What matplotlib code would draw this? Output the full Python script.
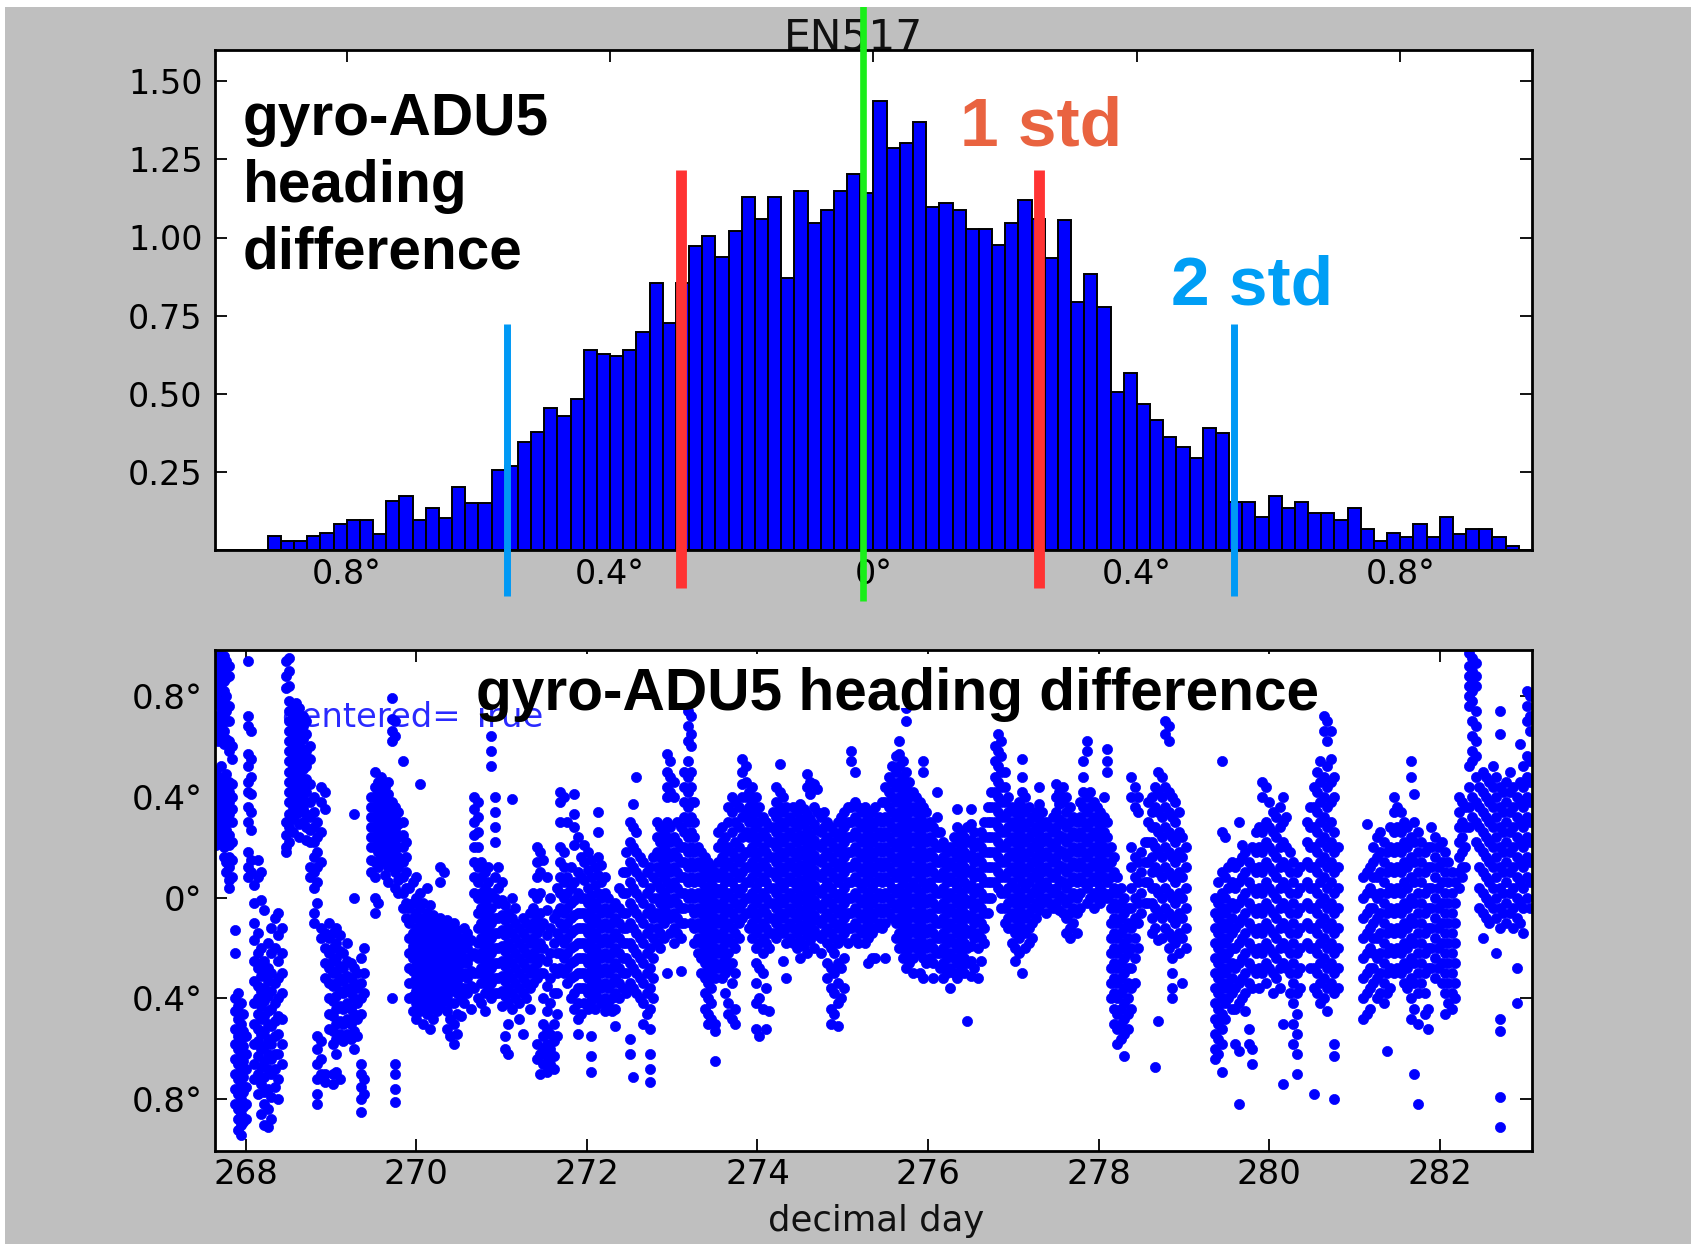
import numpy as np
import matplotlib
matplotlib.use("Agg")
import matplotlib.pyplot as plt
from matplotlib.patches import Rectangle

# ---------------- data ----------------
# histogram (normalised counts), 100 bins of width 0.02 deg from -1 to 1
hist_heights = [0, 0, 0, 0, 0.045, 0.029, 0.029, 0.045, 0.053, 0.083,
                0.096, 0.096, 0.051, 0.158, 0.173, 0.096, 0.136, 0.104, 0.203, 0.150,
                0.150, 0.256, 0.269, 0.347, 0.378, 0.454, 0.429, 0.483, 0.641, 0.628,
                0.620, 0.641, 0.697, 0.855, 0.726, 0.855, 0.974, 1.006, 0.937, 1.020,
                1.129, 1.058, 1.129, 0.870, 1.148, 1.045, 1.089, 1.148, 1.202, 1.143,
                1.437, 1.287, 1.301, 1.370, 1.097, 1.111, 1.088, 1.028, 1.028, 0.975,
                1.045, 1.120, 1.060, 0.935, 1.056, 0.793, 0.884, 0.778, 0.505, 0.566,
                0.468, 0.415, 0.361, 0.331, 0.294, 0.392, 0.376, 0.155, 0.155, 0.105,
                0.173, 0.134, 0.155, 0.120, 0.120, 0.096, 0.134, 0.066, 0.030, 0.053,
                0.043, 0.083, 0.043, 0.105, 0.051, 0.066, 0.066, 0.043, 0.014, 0]
hist_xticks = [-0.8, -0.4, 0.0, 0.4, 0.8]
hist_xlabels = ["0.8°", "0.4°", "0°", "0.4°", "0.8°"]
hist_yticks = [0.25, 0.50, 0.75, 1.00, 1.25, 1.50]
hist_ylabels = ["0.25", "0.50", "0.75", "1.00", "1.25", "1.50"]

mean_line = -0.016
std1_lines = [-0.292, 0.252]
std2_lines = [-0.557, 0.547]

# scatter: (decimal day, heading differences in 1/100 deg)
scatter_cols = [
    (267.65, [96, 93, 90, 87, 84, 80, 72, 66, 50, 46, 43, 40, 36, 33, 30, 27, 24, 21]),
    (267.68, [97, 94, 91, 88, 85, 82, 77, 70, 62, 48, 44, 41, 38, 35, 31, 28, 25, 22]),
    (267.71, [95, 92, 89, 86, 83, 75, 68, 64, 52, 45, 42, 39, 34, 29, 26, 23]),
    (267.74, [96, 93, 90, 86, 82, 78, 72, 66, 61, 47, 44, 40, 37, 32, 28, 24, 20, 16]),
    (267.77, [94, 91, 87, 80, 74, 70, 63, 49, 45, 41, 36, 31, 27, 22, 14, 10]),
    (267.80, [92, 88, 76, 70, 62, 58, 46, 42, 38, 33, 25, 21, 16, 12, 7, 4]),
    (267.84, [60, 55, 45, 40, 35, 30, 22, 15, 8]),
    (267.88, [-13, -22, -40, -45, -52, -58, -64, -70, -76, -82]),
    (267.91, [-38, -43, -48, -55, -60, -66, -72, -78, -84, -88, -92]),
    (267.94, [-42, -50, -56, -62, -68, -74, -80, -86, -90, -94]),
    (267.97, [-46, -53, -59, -65, -71, -77, -83, -89]),
    (268.00, [-55, -62, -68, -75, -82, -88]),
    (268.03, [94, 72, 68, 57, 52, 46, 42, 36, 30, 18, 12, 8]),
    (268.06, [66, 55, 48, 41, 34, 27, 15, 10]),
    (268.10, [5, -2, -10, -17, -25, -33, -42, -50, -58, -66, -72]),
    (268.14, [15, 8, -14, -22, -28, -35, -40, -46, -52, -57, -63, -70, -78]),
    (268.18, [10, -1, -20, -26, -31, -37, -43, -48, -54, -60, -67, -74, -86]),
    (268.22, [-5, -25, -30, -36, -41, -47, -53, -59, -65, -71, -77, -82, -90]),
    (268.26, [-18, -28, -33, -39, -45, -50, -56, -62, -68, -76, -84, -91]),
    (268.30, [-12, -22, -30, -37, -44, -51, -58, -64, -70, -79, -88]),
    (268.34, [-8, -20, -34, -42, -49, -55, -62, -68, -75]),
    (268.38, [-6, -15, -25, -32, -40, -47, -54, -62, -72, -80]),
    (268.43, [-12, -22, -30, -38, -48, -58, -66]),
    (268.47, [94, 88, 83, 30, 25, 20, 18]),
    (268.51, [95, 90, 84, 78, 74, 70, 66, 62, 58, 54, 50, 46, 42, 38, 33, 28, 22]),
    (268.55, [76, 72, 68, 64, 60, 56, 52, 48, 44, 40, 36, 31, 26]),
    (268.59, [77, 73, 69, 65, 61, 57, 53, 49, 45, 41, 37, 33]),
    (268.63, [75, 70, 66, 62, 58, 54, 50, 46, 42, 38, 34, 29, 24]),
    (268.67, [72, 68, 63, 59, 55, 51, 47, 43, 39, 35, 30]),
    (268.71, [70, 65, 58, 52, 47, 42, 38, 33, 28, 23]),
    (268.75, [60, 55, 45, 38, 32, 27, 22, 12, 8]),
    (268.80, [40, 34, 28, 22, 16, 10, 4, -6, -10]),
    (268.84, [30, 24, 18, 12, 6, -2, -55, -60, -66, -72, -78, -82]),
    (268.88, [44, 38, 26, 14, -12, -16, -57, -64, -70]),
    (268.93, [42, 35, -14, -20, -26, -32, -70, -73]),
    (268.98, [-10, -16, -22, -28, -34, -40, -46, -52]),
    (269.02, [-14, -20, -25, -30, -35, -41, -47, -53, -58, -70, -74]),
    (269.06, [-12, -18, -24, -29, -34, -39, -44, -50, -56, -62, -69]),
    (269.10, [-15, -21, -27, -32, -37, -43, -49, -54, -72]),
    (269.14, [-22, -28, -33, -38, -44, -50, -57]),
    (269.19, [-18, -25, -31, -36, -42, -48, -54]),
    (269.23, [-26, -32, -38, -44, -50, -56]),
    (269.27, [33, 0, -28, -34, -40, -46, -53, -60]),
    (269.31, [-30, -36, -42, -48, -55]),
    (269.35, [-24, -34, -40, -46, -66, -70, -75, -80, -85]),
    (269.39, [-20, -30, -38, -72, -78]),
    (269.47, [40, 36, 32, 28, 24, 20, 15, 10]),
    (269.51, [50, 44, 40, 36, 32, 28, 24, 20, 14, 8, 0, -6]),
    (269.55, [46, 42, 38, 34, 30, 26, 22, 18, 12, -2]),
    (269.59, [48, 43, 39, 35, 31, 27, 23, 19, 16]),
    (269.63, [44, 40, 36, 32, 28, 24, 20, 14, 9]),
    (269.67, [46, 41, 37, 33, 29, 25, 21, 17, 12, 6]),
    (269.71, [79, 71, 66, 62, 38, 34, 30, 26, 22, 18, 14, -40]),
    (269.75, [70, 64, 36, 32, 27, 23, 19, 15, 10, 4, -66, -70, -76, -81]),
    (269.79, [34, 29, 24, 20, 16, 12, 7, 2]),
    (269.84, [54, 30, 25, 20, 14, 8, 2, -4]),
    (269.88, [22, 16, 10, 4, -2, -8]),
    (269.92, [4, -4, -10, -16, -22, -28, -34, -40]),
    (269.96, [6, -2, -8, -14, -19, -24, -29, -34, -39, -45]),
    (270.00, [8, 0, -6, -12, -17, -22, -27, -32, -37, -42, -48]),
    (270.04, [45, 2, -4, -10, -15, -20, -25, -30, -35, -40, -45]),
    (270.08, [-2, -8, -13, -18, -23, -28, -33, -38, -43, -50]),
    (270.12, [4, -6, -11, -16, -21, -26, -31, -36, -41, -46]),
    (270.16, [-3, -9, -14, -19, -24, -29, -34, -39, -44, -52]),
    (270.20, [-7, -12, -17, -22, -27, -32, -37, -42, -48]),
    (270.24, [-10, -15, -20, -25, -30, -35, -40, -45]),
    (270.28, [12, 6, -8, -13, -18, -23, -28, -33, -38, -43]),
    (270.32, [10, -11, -16, -21, -26, -31, -36, -41]),
    (270.36, [-9, -14, -19, -24, -29, -34, -39, -45, -52]),
    (270.40, [-12, -17, -22, -27, -32, -37, -42, -48, -55]),
    (270.44, [-10, -15, -20, -25, -30, -35, -42, -50, -58]),
    (270.48, [-13, -18, -23, -28, -33, -38, -46, -54]),
    (270.52, [-16, -21, -26, -31, -36, -40, -47]),
    (270.56, [-12, -18, -24, -30, -36, -42]),
    (270.60, [-14, -20, -26, -32, -38]),
    (270.64, [-17, -23, -29, -35, -44]),
    (270.68, [40, 35, 30, 25, 20, 14, 8, 2, -22, -30, -36]),
    (270.72, [38, 32, 26, 20, 12, 6, 0, -6, -12, -18, -24, -30, -40]),
    (270.76, [14, 8, 2, -4, -10, -16, -22, -28, -34, -42]),
    (270.80, [10, 4, -2, -8, -14, -20, -26, -32, -38, -45]),
    (270.84, [12, 6, 0, -6, -12, -18, -24, -30, -36]),
    (270.88, [64, 58, 52, 2, -4, -10, -16, -22, -28, -34, -40]),
    (270.92, [40, 34, 28, 22, 8, 0, -8, -14, -20, -26, -32, -38]),
    (270.96, [12, 4, -2, -8, -14, -20, -26, -32, -38]),
    (271.00, [6, -1, -7, -13, -19, -25, -31, -37, -43]),
    (271.04, [-3, -9, -15, -21, -27, -33, -39, -55, -60]),
    (271.08, [-6, -12, -18, -24, -30, -36, -42, -50, -62]),
    (271.12, [39, 0, -8, -14, -20, -26, -32, -38, -44]),
    (271.16, [-4, -10, -16, -22, -28, -34, -40]),
    (271.20, [-12, -18, -24, -30, -36, -42, -48]),
    (271.25, [-8, -14, -20, -26, -32, -38, -54]),
    (271.29, [-10, -16, -22, -28, -34, -40]),
    (271.33, [-6, -12, -18, -24, -30, -36, -44]),
    (271.37, [2, -4, -10, -16, -22, -28, -34]),
    (271.41, [20, 14, 8, 0, -8, -14, -20, -26, -32, -58, -64]),
    (271.45, [18, 10, 2, -6, -12, -18, -24, -30, -62, -70]),
    (271.49, [15, -10, -20, -30, -40, -50, -55, -60, -66]),
    (271.53, [8, -5, -15, -25, -35, -45, -52, -58, -63, -69]),
    (271.57, [0, -12, -22, -32, -42, -54, -60, -66]),
    (271.61, [-8, -18, -28, -38, -50, -57, -63, -68]),
    (271.65, [4, -6, -14, -22, -30, -38, -46, -55]),
    (271.69, [42, 38, 30, 20, 14, 8, 2, -4, -10, -16, -22, -28]),
    (271.73, [40, 18, 12, 6, 0, -6, -12, -18, -24, -30]),
    (271.77, [30, 8, 2, -4, -10, -16, -22, -28, -34]),
    (271.81, [12, 4, -2, -8, -14, -20, -26, -32, -40]),
    (271.85, [41, 33, 28, 21, 6, -1, -7, -13, -19, -25, -31, -38, -44]),
    (271.89, [24, 10, 2, -6, -12, -18, -24, -30, -36, -42, -48, -54]),
    (271.93, [16, 8, 0, -6, -12, -18, -24, -30, -36, -46]),
    (271.97, [21, 14, 7, 0, -6, -12, -18, -24, -30, -36, -42]),
    (272.01, [18, 11, 4, -2, -8, -14, -20, -26, -32, -38, -44]),
    (272.05, [15, 8, 1, -5, -11, -17, -23, -29, -35, -41, -55, -63, -69]),
    (272.09, [12, 5, -2, -8, -14, -20, -26, -32, -38, -44]),
    (272.13, [34, 26, 16, 9, 2, -4, -10, -16, -22, -28, -34, -40]),
    (272.17, [13, 6, 0, -6, -12, -18, -24, -30, -36, -42]),
    (272.21, [8, 2, -4, -10, -16, -22, -28, -34, -40, -45]),
    (272.25, [0, -6, -12, -18, -24, -30, -36, -42]),
    (272.29, [-4, -10, -16, -22, -28, -34, -40, -45]),
    (272.33, [-2, -8, -14, -20, -26, -32, -38, -44, -51]),
    (272.38, [4, -4, -10, -16, -22, -28, -34, -40]),
    (272.42, [10, 2, -6, -12, -18, -24, -30, -36]),
    (272.46, [18, 10, 2, -6, -12, -18, -24, -30, -38]),
    (272.50, [30, 22, 14, 6, -2, -10, -18, -26, -34, -56, -62]),
    (272.54, [37, 28, 20, 12, 4, -4, -12, -20, -28, -36, -71]),
    (272.58, [48, 26, 18, 10, 2, -6, -14, -22, -30, -38]),
    (272.62, [16, 8, 0, -8, -16, -24, -32, -40]),
    (272.66, [14, 6, -2, -10, -18, -26, -34, -42, -50]),
    (272.70, [10, 2, -6, -14, -22, -30, -38, -46]),
    (272.74, [12, 4, -4, -12, -20, -28, -36, -44, -52, -62, -68, -73]),
    (272.78, [16, 8, 0, -8, -16, -24, -32, -40]),
    (272.82, [30, 24, 18, 12, 6, 0, -6, -12, -18]),
    (272.86, [28, 22, 16, 10, 4, -2, -8, -14, -20]),
    (272.90, [26, 20, 14, 8, 2, -4, -10, -16]),
    (272.94, [57, 50, 44, 40, 30, 24, 18, 12, 6, 0, -6, -30]),
    (272.98, [54, 48, 42, 28, 22, 16, 10, 4, -2, -8, -14]),
    (273.02, [46, 40, 24, 18, 12, 6, 0, -6, -12, -18]),
    (273.06, [30, 22, 16, 10, 4, -2, -8, -14]),
    (273.10, [28, 20, 14, 8, 2, -4, -10, -16, -29]),
    (273.14, [50, 44, 38, 32, 26, 20, 14, 8, 2, -4, -10]),
    (273.18, [74, 68, 62, 54, 48, 42, 36, 30, 24, 18, 12, 6, 0]),
    (273.22, [72, 65, 60, 50, 44, 38, 32, 26, 20, 14, 8, 2, -4, -10]),
    (273.26, [38, 30, 24, 18, 12, 6, 0, -6, -12, -18]),
    (273.30, [20, 14, 8, 2, -4, -10, -16, -22]),
    (273.34, [18, 12, 6, 0, -6, -12, -18, -24, -30]),
    (273.38, [16, 10, 4, -2, -8, -14, -20, -26, -32, -38, -44]),
    (273.42, [14, 8, 2, -4, -10, -16, -22, -28, -34, -40, -46, -50]),
    (273.46, [12, 6, 0, -6, -12, -18, -24, -30, -36, -42, -48]),
    (273.50, [10, 4, -2, -8, -14, -20, -26, -32, -50, -53, -65]),
    (273.54, [26, 20, 14, 8, 2, -4, -10, -16, -22, -28]),
    (273.58, [28, 22, 16, 10, 4, -2, -8, -14, -20, -26, -32]),
    (273.62, [24, 18, 12, 6, 0, -6, -12, -18, -24, -30, -38]),
    (273.66, [36, 30, 20, 14, 8, 2, -4, -10, -16, -22, -28, -42, -46]),
    (273.70, [40, 34, 26, 18, 12, 6, 0, -6, -12, -18, -26, -34, -48]),
    (273.74, [38, 30, 22, 16, 10, 4, -2, -8, -14, -20, -30, -44, -50]),
    (273.78, [36, 28, 20, 14, 8, 2, -4, -10, -16]),
    (273.82, [55, 50, 45, 40, 32, 24, 16, 10, 4, -2, -8]),
    (273.86, [52, 46, 40, 34, 26, 18, 12, 6, 0, -6]),
    (273.90, [42, 36, 30, 24, 18, 12, 6, 0, -6, -12]),
    (273.94, [44, 38, 32, 26, 20, 14, 8, 2, -4, -10, -16]),
    (273.98, [40, 34, 28, 22, 16, 10, 4, -2, -8, -14, -20, -26, -34, -42, -52]),
    (274.02, [36, 30, 24, 18, 12, 6, 0, -6, -12, -18, -28, -40, -55]),
    (274.06, [32, 26, 20, 14, 8, 2, -4, -10, -16, -22, -30, -44]),
    (274.10, [30, 24, 18, 12, 6, 0, -6, -12, -18, -36, -52]),
    (274.14, [28, 22, 16, 10, 4, -2, -8, -14, -20, -45]),
    (274.18, [34, 28, 22, 16, 10, 4, -2, -8, -14]),
    (274.22, [44, 38, 32, 26, 20, 14, 8, 2, -4, -10, -16]),
    (274.26, [53, 42, 36, 30, 24, 18, 12, 6, 0, -6, -12]),
    (274.30, [40, 34, 28, 22, 16, 10, 4, -2, -8, -14, -25]),
    (274.34, [36, 30, 24, 18, 12, 6, 0, -6, -12, -18, -32]),
    (274.38, [32, 26, 20, 14, 8, 2, -4, -10, -16]),
    (274.42, [36, 30, 24, 18, 12, 6, 0, -6, -12, -18]),
    (274.46, [34, 28, 22, 16, 10, 4, -2, -8, -14, -20]),
    (274.50, [37, 31, 25, 19, 13, 7, 1, -5, -11, -17, -24]),
    (274.54, [35, 29, 23, 17, 11, 5, -1, -7, -13, -19]),
    (274.58, [49, 44, 33, 27, 21, 15, 9, 3, -3, -9, -15, -22]),
    (274.62, [46, 41, 31, 25, 19, 13, 7, 1, -5, -11, -17]),
    (274.66, [45, 36, 29, 23, 17, 11, 5, -1, -7, -13, -20]),
    (274.70, [43, 34, 27, 21, 15, 9, 3, -3, -9, -15]),
    (274.74, [32, 26, 20, 14, 8, 2, -4, -10, -16, -22]),
    (274.78, [34, 28, 22, 16, 10, 4, -2, -8, -14]),
    (274.82, [30, 24, 18, 12, 6, 0, -6, -12, -18, -26, -32]),
    (274.86, [28, 22, 16, 10, 4, -2, -8, -14, -20, -28, -36, -44, -50]),
    (274.90, [26, 20, 14, 8, 2, -4, -10, -16, -22, -30, -38, -46]),
    (274.94, [30, 24, 18, 12, 6, 0, -6, -12, -18, -26, -34, -42, -51]),
    (274.98, [32, 26, 20, 14, 8, 2, -4, -10, -16, -28, -40]),
    (275.02, [34, 28, 22, 16, 10, 4, -2, -8, -14, -24, -36]),
    (275.06, [36, 30, 24, 18, 12, 6, 0, -6, -12, -18]),
    (275.10, [58, 54, 36, 30, 24, 18, 12, 6, 0, -6, -12]),
    (275.14, [50, 38, 32, 26, 20, 14, 8, 2, -4, -10, -16]),
    (275.18, [36, 30, 24, 18, 12, 6, 0, -6, -12, -18]),
    (275.22, [34, 28, 22, 16, 10, 4, -2, -8, -14]),
    (275.26, [36, 30, 24, 18, 12, 6, 0, -6, -12, -18]),
    (275.30, [32, 26, 20, 14, 8, 2, -4, -10, -16, -26]),
    (275.34, [34, 28, 22, 16, 10, 4, -2, -8, -14, -24]),
    (275.38, [36, 30, 24, 18, 12, 6, 0, -6, -12, -24]),
    (275.42, [32, 26, 20, 14, 8, 2, -4, -10]),
    (275.46, [38, 30, 24, 18, 12, 6, 0, -6, -12]),
    (275.50, [44, 38, 32, 26, 20, 14, 8, 2, -4, -10, -24]),
    (275.54, [48, 42, 36, 30, 24, 18, 12, 6, 0, -6]),
    (275.58, [52, 46, 40, 34, 28, 22, 16, 10, 4, -2, -8]),
    (275.62, [56, 50, 44, 38, 32, 26, 20, 14, 8, 2, -4, -10, -16]),
    (275.66, [62, 57, 52, 46, 40, 34, 28, 22, 16, 10, 4, -2, -8, -14, -20]),
    (275.70, [54, 48, 42, 36, 30, 24, 18, 12, 6, 0, -6, -12, -18, -24]),
    (275.74, [75, 70, 50, 44, 38, 32, 26, 20, 14, 8, 2, -4, -10, -16, -22, -28]),
    (275.78, [46, 40, 34, 28, 22, 16, 10, 4, -2, -8, -14, -20, -26]),
    (275.82, [42, 36, 30, 24, 18, 12, 6, 0, -6, -12, -18, -24, -30]),
    (275.86, [40, 34, 28, 22, 16, 10, 4, -2, -8, -14, -20]),
    (275.90, [38, 32, 26, 20, 14, 8, 2, -4, -10, -16, -22, -30]),
    (275.94, [54, 50, 36, 30, 24, 18, 12, 6, 0, -6, -12, -18, -24, -32]),
    (275.98, [34, 28, 22, 16, 10, 4, -2, -8, -14, -20, -26]),
    (276.02, [30, 24, 18, 12, 6, 0, -6, -12, -18, -24]),
    (276.06, [28, 22, 16, 10, 4, -2, -8, -14, -20, -26, -32]),
    (276.10, [42, 32, 26, 20, 14, 8, 2, -4, -10, -16, -22]),
    (276.14, [26, 20, 14, 8, 2, -4, -10, -16, -22, -28]),
    (276.18, [22, 16, 10, 4, -2, -8, -14, -20, -26, -32]),
    (276.22, [18, 12, 6, 0, -6, -12, -18, -24, -30]),
    (276.26, [20, 14, 8, 2, -4, -10, -16, -22, -28, -36]),
    (276.30, [24, 18, 12, 6, 0, -6, -12, -18, -24, -30]),
    (276.34, [35, 28, 22, 16, 10, 4, -2, -8, -14, -20, -26, -32]),
    (276.38, [26, 20, 14, 8, 2, -4, -10, -16, -22, -28]),
    (276.42, [24, 18, 12, 6, 0, -6, -12, -18, -24, -30]),
    (276.46, [28, 22, 16, 10, 4, -2, -8, -14, -20, -26, -49]),
    (276.50, [35, 29, 23, 17, 11, 5, -1, -7, -13, -19, -25, -31]),
    (276.54, [26, 20, 14, 8, 2, -4, -10, -16, -28]),
    (276.58, [22, 16, 10, 4, -2, -8, -14, -20, -32]),
    (276.62, [26, 20, 14, 8, 2, -4, -10, -16, -25]),
    (276.66, [30, 24, 18, 12, 6, 0, -6, -12, -18]),
    (276.70, [36, 30, 24, 18, 12, 6, 0, -6]),
    (276.74, [42, 36, 30, 24, 18, 12, 6, 0]),
    (276.78, [60, 54, 48, 42, 36, 30, 24, 18, 12, 6]),
    (276.82, [65, 58, 52, 46, 40, 34, 28, 22, 16, 10, 4]),
    (276.86, [62, 56, 50, 44, 38, 32, 26, 20, 14, 8, 2, -4]),
    (276.90, [50, 44, 38, 32, 26, 20, 14, 8, 2, -4, -10]),
    (276.94, [40, 34, 28, 22, 16, 10, 4, -2, -8, -12]),
    (276.98, [36, 30, 24, 18, 12, 6, 0, -6, -12, -18]),
    (277.02, [34, 28, 22, 16, 10, 4, -2, -8, -14, -20, -25]),
    (277.06, [38, 32, 26, 20, 14, 8, 2, -4, -10, -16, -22]),
    (277.10, [55, 48, 42, 36, 30, 24, 18, 12, 6, 0, -6, -12, -30]),
    (277.14, [40, 34, 28, 22, 16, 10, 4, -2, -8, -14, -20]),
    (277.18, [36, 30, 24, 18, 12, 6, 0, -6, -12, -18]),
    (277.22, [32, 26, 20, 14, 8, 2, -4, -10, -16]),
    (277.26, [34, 28, 22, 16, 10, 4, -2, -8]),
    (277.30, [44, 37, 31, 25, 19, 13, 7, 1, -5]),
    (277.34, [34, 28, 22, 16, 10, 4, -2]),
    (277.38, [30, 24, 18, 12, 6, 0, -6]),
    (277.42, [28, 22, 16, 10, 4, -2]),
    (277.46, [32, 26, 20, 14, 8, 2, -4]),
    (277.50, [45, 40, 34, 28, 22, 16, 10, 4, -2]),
    (277.54, [42, 37, 31, 25, 19, 13, 7, 1, -5]),
    (277.58, [44, 38, 30, 24, 18, 12, 6, 0, -6]),
    (277.62, [40, 34, 28, 22, 16, 10, 4, -2, -8, -14]),
    (277.66, [36, 30, 24, 18, 12, 6, 0, -6, -12, -16]),
    (277.70, [32, 26, 20, 14, 8, 2, -4, -10]),
    (277.74, [30, 24, 18, 12, 6, 0, -6, -14]),
    (277.78, [38, 32, 26, 20, 14, 8, 2, -4]),
    (277.82, [54, 48, 42, 36, 30, 24, 18, 12, 6]),
    (277.86, [62, 58, 40, 34, 28, 22, 16, 10, 4, -2]),
    (277.90, [42, 36, 30, 24, 18, 12, 6, 0]),
    (277.94, [38, 32, 26, 20, 14, 8, 2, -4]),
    (277.98, [36, 30, 24, 18, 12, 6, 0]),
    (278.02, [34, 28, 22, 16, 10, 4, -2]),
    (278.06, [40, 32, 26, 20, 14, 8, 2]),
    (278.10, [59, 54, 50, 30, 24, 18, 12, 6, 0]),
    (278.14, [20, 14, 8, 2, -4, -10, -16, -22, -28, -34, -40]),
    (278.18, [16, 10, 4, -2, -8, -14, -20, -26, -32, -38, -44, -50]),
    (278.22, [8, 2, -4, -10, -16, -22, -28, -34, -40, -46, -52, -58]),
    (278.26, [4, -2, -8, -14, -20, -26, -32, -38, -44, -50, -56]),
    (278.30, [0, -6, -12, -18, -24, -30, -36, -42, -48, -54, -63]),
    (278.34, [-4, -10, -16, -22, -28, -34, -40, -46, -52]),
    (278.38, [48, 40, 20, 12, 4, -4, -12, -20, -28, -36, -44]),
    (278.42, [44, 36, 16, 8, 0, -8, -16, -24, -34]),
    (278.46, [40, 34, 14, 6, -2, -10, -20]),
    (278.50, [18, 10, 2, -6]),
    (278.54, [22, 14, 6, -2]),
    (278.58, [38, 30, 22, 14, 6, -2]),
    (278.62, [40, 34, 28, 22, 16, 10, 4, -2, -8, -14]),
    (278.66, [44, 36, 28, 20, 12, 4, -4, -12, -67]),
    (278.70, [50, 42, 34, 26, 18, 10, 2, -6, -17, -49]),
    (278.74, [48, 40, 32, 24, 16, 8, 0, -8, -16]),
    (278.78, [70, 65, 44, 36, 28, 20, 12, 4, -4, -12]),
    (278.82, [68, 62, 42, 34, 26, 18, 10, 2, -6, -14, -20]),
    (278.86, [40, 32, 24, 16, 8, 0, -8, -16, -24, -30, -36, -40]),
    (278.90, [38, 30, 22, 14, 6, -2, -10, -18]),
    (278.94, [34, 26, 18, 10, 2, -6, -14, -22]),
    (278.98, [24, 16, 8, 0, -8, -16, -34]),
    (279.02, [20, 12, 4, -4, -12, -20]),
    (279.36, [0, -6, -12, -18, -24, -30, -36, -42, -48, -54, -60, -64]),
    (279.40, [6, -2, -8, -14, -20, -26, -32, -38, -44, -50, -56, -62]),
    (279.44, [54, 26, 10, 2, -4, -10, -16, -22, -28, -34, -40, -46, -52, -58, -69]),
    (279.48, [24, 8, 0, -6, -12, -18, -24, -30, -36, -42, -48]),
    (279.52, [12, 4, -4, -10, -16, -22, -28, -34, -40]),
    (279.56, [14, 6, -2, -8, -14, -20, -26, -32, -38, -44]),
    (279.60, [12, 4, -4, -12, -20, -28, -36, -44, -58]),
    (279.64, [30, 14, 6, -2, -10, -18, -26, -34, -42, -61, -82]),
    (279.68, [21, 16, 8, 0, -8, -16, -24, -32, -40]),
    (279.72, [18, 10, 2, -6, -14, -22, -30, -38, -45]),
    (279.76, [14, 6, -2, -10, -18, -26, -34, -52, -58]),
    (279.80, [20, 12, 4, -4, -12, -20, -28, -36, -60, -66]),
    (279.84, [26, 18, 10, 2, -6, -14, -22, -30]),
    (279.88, [28, 20, 12, 4, -4, -12, -20, -28, -36]),
    (279.92, [46, 40, 26, 18, 10, 2, -6, -14, -22, -30]),
    (279.96, [44, 30, 22, 14, 6, -2, -10, -18, -26, -34]),
    (280.00, [38, 28, 20, 12, 4, -4, -12, -20, -28]),
    (280.04, [34, 26, 18, 10, 2, -6, -14, -22, -30, -38]),
    (280.08, [32, 24, 16, 8, 0, -8, -16, -24, -32]),
    (280.12, [36, 28, 20, 12, 4, -4, -12, -20, -28, -36]),
    (280.16, [40, 30, 22, 14, 6, -2, -10, -18, -26, -50, -74]),
    (280.20, [32, 20, 12, 4, -4, -12, -20, -28]),
    (280.24, [18, 10, 2, -6, -14, -22, -30, -38]),
    (280.28, [14, 6, -2, -10, -18, -26, -34, -42, -50, -58]),
    (280.32, [10, 2, -6, -14, -22, -30, -38, -46, -54, -62, -70]),
    (280.36, [12, 4, -4, -12, -20, -28, -36]),
    (280.44, [30, 22, 14, 6, -2, -10, -18]),
    (280.48, [36, 28, 20, 12, 4, -4, -12, -20, -28]),
    (280.52, [44, 36, 28, 20, 12, 4, -4, -12, -20, -28, -36, -78]),
    (280.56, [50, 42, 34, 26, 18, 10, 2, -6, -14, -22, -30, -38]),
    (280.60, [54, 46, 38, 30, 22, 14, 6, -2, -10, -18, -26, -34, -42]),
    (280.64, [72, 66, 48, 40, 32, 24, 16, 8, 0, -8, -16, -24, -32, -40]),
    (280.68, [70, 62, 52, 44, 36, 28, 20, 12, 4, -4, -12, -20, -28, -36, -45]),
    (280.72, [66, 55, 46, 38, 30, 22, 14, 6, -2, -10, -18, -26, -34]),
    (280.76, [48, 40, 26, 18, 10, 2, -6, -14, -22, -30, -38, -58, -63, -80]),
    (280.80, [20, 12, 4, -4, -12, -20, -28, -36]),
    (281.10, [8, 0, -8, -16, -24, -32, -40, -48]),
    (281.14, [29, 10, 2, -6, -14, -22, -30, -38, -46]),
    (281.18, [12, 4, -4, -12, -20, -28, -36, -44]),
    (281.22, [20, 14, 8, 2, -4, -10, -16, -22, -28, -34]),
    (281.26, [24, 16, 8, 0, -8, -16, -24, -32, -40]),
    (281.30, [26, 18, 10, 2, -6, -14, -22, -30, -38]),
    (281.34, [22, 14, 6, -2, -10, -18, -26, -34, -42]),
    (281.38, [18, 10, 2, -6, -14, -22, -30, -38, -61]),
    (281.42, [28, 20, 12, 4, -4, -12, -20, -28, -36]),
    (281.46, [40, 34, 26, 18, 10, 2, -6, -14, -22, -30]),
    (281.50, [36, 28, 20, 12, 4, -4, -12, -20, -28]),
    (281.54, [34, 26, 18, 10, 2, -6, -14, -22, -30]),
    (281.58, [30, 22, 14, 6, -2, -10, -18, -26, -34]),
    (281.62, [28, 20, 12, 4, -4, -12, -20, -28, -36]),
    (281.66, [54, 48, 24, 16, 8, 0, -8, -16, -24, -32, -40, -48]),
    (281.70, [41, 30, 22, 14, 6, -2, -10, -18, -26, -34, -44, -70]),
    (281.74, [26, 18, 10, 2, -6, -14, -22, -30, -38, -50, -82]),
    (281.78, [22, 14, 6, -2, -10, -18, -26, -34]),
    (281.82, [18, 10, 2, -6, -14, -22, -30, -38, -46]),
    (281.86, [20, 12, 4, -4, -12, -20, -28, -44, -52]),
    (281.90, [28, 20, 12, 4, -4, -12, -20, -28]),
    (281.94, [24, 16, 8, 0, -8, -16, -24, -32]),
    (281.98, [20, 12, 4, -4, -12, -20, -28]),
    (282.02, [22, 14, 6, -2, -10, -18, -26, -34]),
    (282.06, [18, 10, 2, -6, -14, -22, -30, -38, -46]),
    (282.10, [14, 6, -2, -10, -18, -26, -34, -42]),
    (282.14, [10, 2, -6, -14, -22, -30, -38, -44]),
    (282.18, [6, -2, -10, -18, -26, -34, -40]),
    (282.22, [40, 34, 28, 22, 16, 10, 4]),
    (282.26, [38, 30, 24, 18, 12, 8]),
    (282.30, [36, 28, 20, 12]),
    (282.34, [97, 92, 88, 84, 80, 76, 52, 44, 36, 28]),
    (282.38, [95, 90, 86, 82, 78, 70, 64, 58, 54, 40, 32]),
    (282.42, [93, 88, 84, 74, 68, 62, 56, 48, 38, 30, 22]),
    (282.46, [44, 36, 28, 20, 12, 4, -4]),
    (282.50, [50, 42, 34, 26, 18, 10, 2, -6, -16]),
    (282.54, [48, 40, 32, 24, 16, 8, 0, -8]),
    (282.58, [46, 38, 30, 22, 14, 6, -2, -10]),
    (282.62, [52, 44, 36, 28, 20, 12, 4, -4]),
    (282.66, [48, 40, 32, 24, 16, 8, 0, -8, -22]),
    (282.70, [74, 65, 44, 36, 28, 20, 12, 4, -4, -12, -48, -53, -79, -91]),
    (282.74, [42, 34, 26, 18, 10, 2, -6]),
    (282.78, [46, 38, 30, 22, 14, 6, -2, -10]),
    (282.82, [50, 42, 34, 26, 18, 10, 2, -6]),
    (282.86, [44, 36, 28, 20, 12, 4, -4, -12]),
    (282.90, [40, 32, 24, 16, 8, 0, -8, -28, -42]),
    (282.94, [61, 46, 38, 30, 22, 14, 6, -2, -10]),
    (282.98, [52, 44, 36, 28, 20, 12, 4, -4, -14]),
    (283.02, [82, 76, 70, 56, 48, 40, 32, 24, 16, 8, 0]),
    (283.06, [80, 72, 66, 54, 46, 38, 30, 22, 14, 6, -4]),
]
day_ticks = [268, 270, 272, 274, 276, 278, 280, 282]
hdg_ticks = [0.8, 0.4, 0.0, -0.4, -0.8]
hdg_labels = ["0.8°", "0.4°", "0°", "0.4°", "0.8°"]

# ---------------- figure ----------------
W, H = 1691, 1244
fig = plt.figure(figsize=(W / 100, H / 100), dpi=100, facecolor="#bfbfbf")


def fx(x):
    return x / W


def fy(y):
    return 1 - y / H


ax1 = fig.add_axes([fx(215), fy(550), (1532 - 215) / W, (550 - 50) / H])
ax2 = fig.add_axes([fx(215), fy(1151), (1532 - 215) / W, (1151 - 650) / H])

for ax in (ax1, ax2):
    for sp in ax.spines.values():
        sp.set_linewidth(2.0)
    ax.tick_params(direction="in", length=8.5, width=1.3, top=True, right=True,
                   colors="black")

# --- histogram panel ---
edges = np.linspace(-1, 1, len(hist_heights) + 1)
ax1.bar(edges[:-1], hist_heights, width=edges[1] - edges[0], align="edge",
        color="#0000ff", edgecolor="black", linewidth=1.4, zorder=2)
ax1.set_xlim(-1, 1)
ax1.set_ylim(0, 1.6)
ax1.set_xticks(hist_xticks)
ax1.set_xticklabels(hist_xlabels, fontsize=24)
ax1.set_yticks(hist_yticks)
ax1.set_yticklabels(hist_ylabels, fontsize=24)
ax1.tick_params(axis="x", pad=6)
ax1.tick_params(axis="y", pad=9)

ax1.text(fx(854), fy(49), "EN517", transform=fig.transFigure, ha="center",
         va="baseline", fontsize=30.5, color="#111111", zorder=1)

# annotation lines
ax1.plot([mean_line, mean_line], [-0.163, 1.76], color="#1aee1a", lw=4.8,
         clip_on=False, solid_capstyle="butt", zorder=6)
for xv in std1_lines:
    ax1.plot([xv, xv], [-0.12, 1.216], color="#ff3333", lw=7.8,
             clip_on=False, solid_capstyle="butt", zorder=5)
for xv in std2_lines:
    ax1.plot([xv, xv], [-0.147, 0.723], color="#0099f5", lw=5.0,
             clip_on=False, solid_capstyle="butt", zorder=5)

bold = dict(family="Liberation Sans", fontweight="bold", va="baseline")
fig.text(fx(243), fy(135), "gyro-ADU5", fontsize=42.2, color="black", **bold)
fig.text(fx(243), fy(202), "heading", fontsize=42.2, color="black", **bold)
fig.text(fx(243), fy(268), "difference", fontsize=42.2, color="black", **bold)
fig.text(fx(960), fy(145), "1 std", fontsize=50, color="#e96340", **bold)
fig.text(fx(1171), fy(305), "2 std", fontsize=50, color="#009ef5", **bold)

# --- scatter panel ---
days = [d for d, vals in scatter_cols for _ in vals]
hdg = [v / 100.0 for d, vals in scatter_cols for v in vals]
ax2.plot(days, hdg, "o", ms=7.3, color="#0000ff", mec="#0000ff", mew=0.5, zorder=2)
ax2.set_xlim(267.64, 283.08)
ax2.set_ylim(-1.005, 0.982)
ax2.set_xticks(day_ticks)
ax2.set_xticklabels([str(t) for t in day_ticks], fontsize=24.5)
ax2.set_yticks(hdg_ticks)
ax2.set_yticklabels(hdg_labels, fontsize=24.5)
ax2.tick_params(axis="x", pad=5)
ax2.tick_params(axis="y", pad=9)

ax2.text(fx(282), fy(727), "centered= True", transform=fig.transFigure,
         fontsize=24.3, color="#2a2aff", va="baseline", zorder=1)

fig.text(fx(876), fy(1231), "decimal day", ha="center", va="baseline",
         fontsize=25.5, color="#111111")

# overlay title on scatter panel with white text box
fig.patches.append(Rectangle((fx(470), fy(708)), (1330 - 470) / W, (708 - 654) / H,
                             transform=fig.transFigure, facecolor="white",
                             edgecolor="none", zorder=2))
fig.text(fx(476), fy(710), "gyro-ADU5 heading difference", fontsize=42.2,
         color="black", zorder=3, **bold)

# white screenshot border strips
fig.patches.append(Rectangle((0, fy(7)), 1, 7 / H, transform=fig.transFigure,
                             facecolor="white", edgecolor="none", zorder=10))
fig.patches.append(Rectangle((0, 0), 4.5 / W, 1, transform=fig.transFigure,
                             facecolor="white", edgecolor="none", zorder=10))

fig.savefig("out.png", dpi=100, facecolor=fig.get_facecolor())
